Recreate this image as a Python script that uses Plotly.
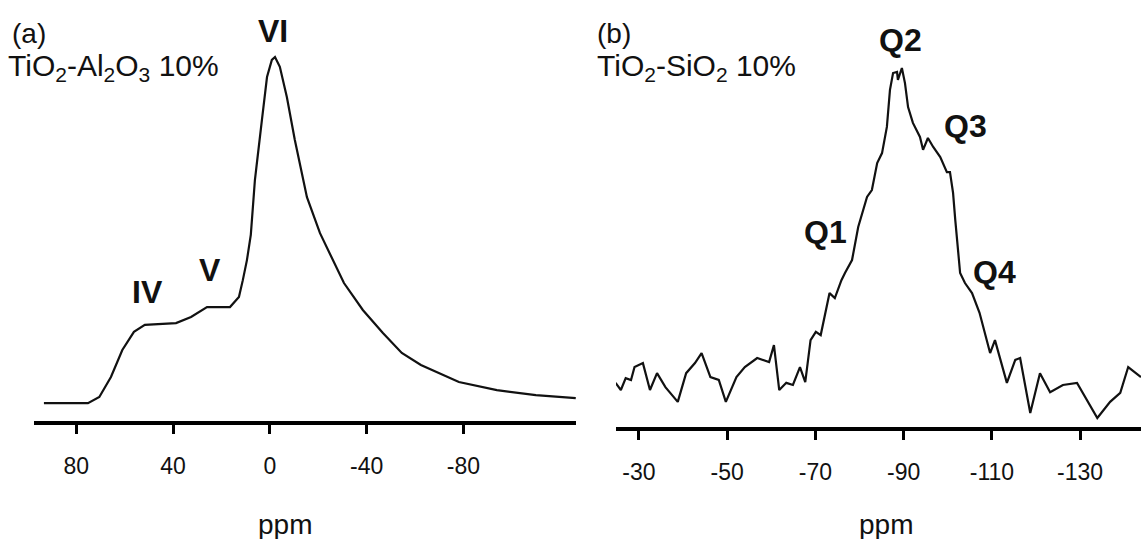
import plotly.graph_objects as go

# ---- Panel (a): 27Al NMR, TiO2-Al2O3 10% ----
ppm_a = [93.4, 75.2, 70.5, 65.7, 61.0, 56.2, 51.7, 38.8, 32.6, 26.0, 16.5, 12.8,
         11.2, 9.5, 7.9, 6.2, 3.3, 1.2, -0.8, -2.1, -4.1, -7.0, -10.3, -15.3,
         -20.7, -26.0, -30.6, -38.4, -46.7, -54.5, -62.4, -78.1, -93.8, -109.9, -126.4]
int_a = [4.9, 4.9, 6.6, 12.1, 19.5, 24.5, 26.4, 26.9, 28.6, 31.3, 31.3, 34.1,
         38.7, 44.2, 51.1, 66.2, 82.7, 94.5, 99.2, 100, 97.3, 89.0, 77.2, 61.5,
         51.6, 44.2, 37.9, 30.5, 24.2, 18.7, 15.4, 10.7, 8.5, 7.1, 6.3]

# ---- Panel (b): 29Si NMR, TiO2-SiO2 10% ----
ppm_b = [-24.7, -25.9, -27.0, -28.2, -29.0, -30.9, -32.5, -34.1, -36.0, -38.8,
         -40.7, -42.7, -44.2, -46.2, -48.1, -49.7, -52.1, -54.0, -56.8, -59.5,
         -60.6, -61.8, -63.4, -64.9, -66.5, -67.7, -68.9, -70.1, -71.2, -73.2,
         -74.4, -75.9, -76.7, -78.3, -79.7, -81.7, -82.8, -84.0, -85.1, -86.2,
         -86.9, -87.6, -88.5, -88.7, -89.6, -90.3, -91.0, -92.1, -93.7, -94.4,
         -95.5, -96.7, -98.3, -99.8, -100.5, -101.2, -101.7, -102.1, -102.8, -103.9,
         -105.5, -107.2, -109.6, -110.7, -113.4, -115.3, -116.4, -118.7, -120.9, -123.2,
         -126.1, -129.3, -133.9, -136.8, -139.1, -140.9, -143.8]
int_b = [12.3, 10.3, 13.6, 13.1, 16.7, 17.8, 10.3, 15.0, 11.1, 7.0,
         15.0, 17.8, 20.6, 13.9, 13.1, 7.0, 13.9, 16.7, 19.2, 18.1,
         22.8, 10.3, 12.3, 11.7, 16.7, 12.5, 24.2, 26.5, 25.6, 37.3,
         35.9, 40.9, 42.9, 46.5, 55.7, 64.1, 66.0, 73.5, 76.3, 83.6,
         93.9, 98.6, 98.9, 96.7, 100, 95.8, 89.1, 84.7, 80.8, 77.2,
         80.5, 78.0, 75.2, 71.0, 71.0, 65.2, 57.7, 52.1, 42.9, 40.1,
         37.3, 31.8, 20.6, 24.2, 12.3, 18.7, 19.2, 3.9, 15.0, 9.7,
         11.7, 12.3, 2.5, 7.0, 9.5, 16.7, 13.9]

ticks_a = [80, 40, 0, -40, -80]
ticks_b = [-30, -50, -70, -90, -110, -130]
axis_title = "ppm"

W, H = 1141, 539
FONT = "Liberation Sans, Arial, sans-serif"

fig = go.Figure()
fig.add_trace(go.Scatter(x=ppm_a, y=int_a, mode="lines",
                         line=dict(color="#111111", width=2.2),
                         xaxis="x", yaxis="y", showlegend=False))
fig.add_trace(go.Scatter(x=ppm_b, y=int_b, mode="lines",
                         line=dict(color="#111111", width=2.2),
                         xaxis="x2", yaxis="y2", showlegend=False))

common_x = dict(showgrid=False, zeroline=False, showline=True, linecolor="black",
                linewidth=4, ticks="outside", ticklen=9, tickwidth=3,
                tickcolor="black", tickmode="array",
                tickfont=dict(family=FONT, size=23, color="#111111"),
                ticklabelstandoff=12)
fig.update_layout(
    width=W, height=H, margin=dict(l=0, r=0, t=0, b=0),
    paper_bgcolor="white", plot_bgcolor="white",
    xaxis=dict(domain=[34 / W, 576 / W], range=[97.5, -126.5],
               tickvals=ticks_a, ticktext=[str(t) for t in ticks_a],
               anchor="y", **common_x),
    yaxis=dict(domain=[1 - 421 / H, 1], range=[0, 421 / 3.64], visible=False,
               anchor="x"),
    xaxis2=dict(domain=[616 / W, 1.0], range=[-24.8, -143.8],
                tickvals=ticks_b, ticktext=[str(t) for t in ticks_b],
                anchor="y2", **common_x),
    yaxis2=dict(domain=[1 - 427 / H, 1], range=[0, 427 / 3.59], visible=False,
                anchor="x2"),
)

def px_ann(text, x, y, size, bold=False, xanchor="center", yanchor="middle"):
    fig.add_annotation(text=f"<b>{text}</b>" if bold else text,
                       xref="paper", yref="paper", x=x / W, y=1 - y / H,
                       xanchor=xanchor, yanchor=yanchor, showarrow=False,
                       font=dict(family=FONT, size=size, color="#111111"))

px_ann("(a)", 10, 34, 28, xanchor="left")
px_ann("TiO<sub>2</sub>-Al<sub>2</sub>O<sub>3</sub> 10%", 6, 67, 30, xanchor="left")
px_ann("(b)", 595, 34, 28, xanchor="left")
px_ann("TiO<sub>2</sub>-SiO<sub>2</sub> 10%", 595, 67, 30, xanchor="left")

px_ann("VI", 273, 31, 32, bold=True)
px_ann("IV", 147, 292, 32, bold=True)
px_ann("V", 210, 270, 32, bold=True)
px_ann("Q1", 825, 232, 32, bold=True)
px_ann("Q2", 900, 40, 32, bold=True)
px_ann("Q3", 965, 126, 32, bold=True)
px_ann("Q4", 994, 272, 32, bold=True)

px_ann(axis_title, 285, 524, 28)
px_ann(axis_title, 886, 524, 28)

fig.write_html("out.html")
